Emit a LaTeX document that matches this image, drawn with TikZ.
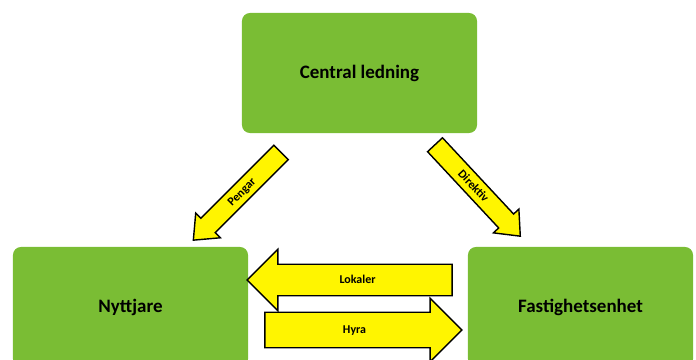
\documentclass[tikz,border=0pt]{standalone}
\usepackage{fontspec}
\setmainfont{Carlito}
\usetikzlibrary{shapes.arrows}
\definecolor{leafgreen}{RGB}{122,189,52}
\definecolor{signyellow}{RGB}{255,245,0}

\begin{document}
\begin{tikzpicture}[x=0.025cm, y=-0.025cm,
		box/.style={fill=leafgreen, rounded corners=0.2cm, inner sep=0pt,
			font=\fontsize{13.5}{16}\selectfont\bfseries},
		blockarrow/.style={single arrow, draw=black, line width=1pt, fill=signyellow,
			inner xsep=0pt, inner ysep=0pt, font=\fontsize{8.5}{10}\selectfont\bfseries}]
			\clip (0,0) rectangle (696,360);

			% boxes
			\node[box, minimum width=5.875cm, minimum height=3cm] (central) at (359.5,73) {Central ledning};
			\node[box, minimum width=5.875cm, minimum height=3cm] (user) at (130.5,307) {Nyttjare};
			\node[box, minimum width=5.625cm, minimum height=3cm] (estate) at (580.5,307) {Fastighetsenhet};

			% arrows from the top
			\node[blockarrow, rotate=45, shape border rotate=180, minimum height=3.1cm,
				text height=0.335cm, text depth=0.14cm, single arrow head extend=0.18cm,
				single arrow tip angle=80] (money) at (241.5,192) {Pengar};
			\node[blockarrow, rotate=-47, minimum height=3.125cm,
				text height=0.335cm, text depth=0.14cm, single arrow head extend=0.18cm,
				single arrow tip angle=80] (directive) at (473.5,186) {Direktiv};

			% arrows between the lower boxes
			\node[blockarrow, shape border rotate=180, minimum height=5.125cm,
				text height=0.47cm, text depth=0.28cm, single arrow head extend=0.375cm] (premises) at (357.5,280) {Lokaler};
			\node[blockarrow, minimum height=4.925cm,
				text height=0.52cm, text depth=0.33cm, single arrow head extend=0.35cm] (rent) at (354.5,330) {Hyra};
\end{tikzpicture}
\end{document}
